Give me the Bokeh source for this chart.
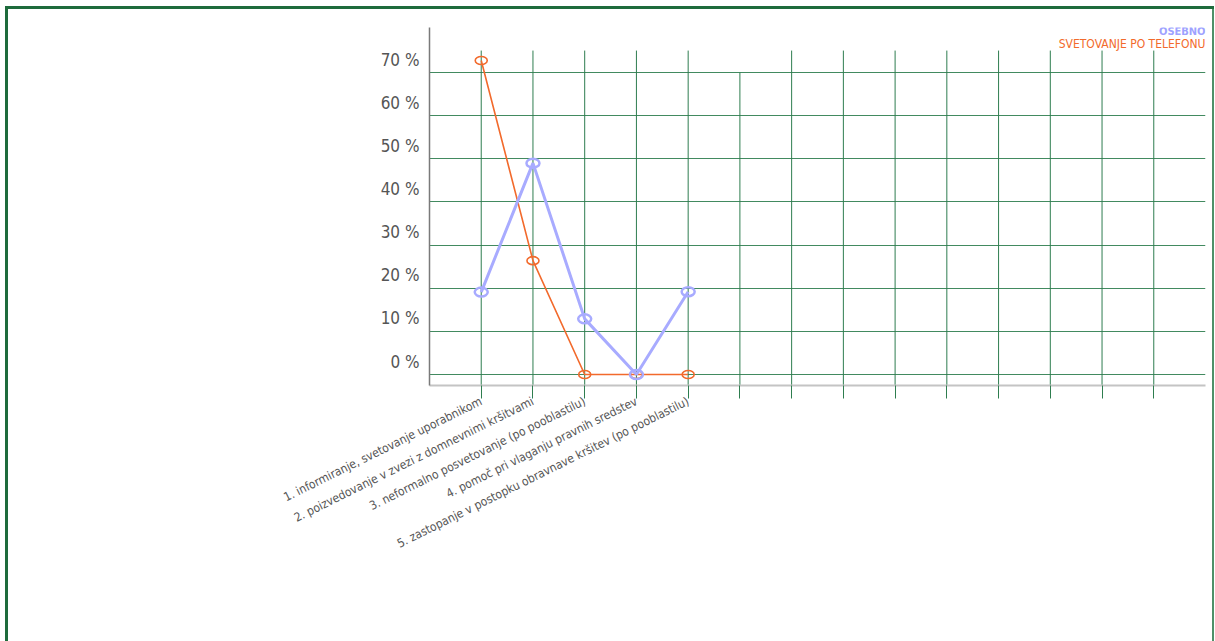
from bokeh.plotting import figure
from bokeh.layouts import column, row
from bokeh.models import Range1d, LinearAxis, FixedTicker, Label, Grid, ColumnDataSource, Spacer
from bokeh.embed import file_html
from bokeh.resources import INLINE

# ---- data ----
categories = [
    "1. informiranje, svetovanje uporabnikom",
    "2. poizvedovanje v zvezi z domnevnimi kršitvami",
    "3. neformalno posvetovanje (po pooblastilu)",
    "4. pomoč pri vlaganju pravnih sredstev",
    "5. zastopanje v postopku obravnave kršitev (po pooblastilu)",
]
series_names = ["OSEBNO", "SVETOVANJE PO TELEFONU"]
osebno = [19.1, 49.0, 12.9, 0.0, 19.2]
telefon = [72.8, 26.4, 0.0, 0.0, 0.0]
yticks = [0, 10, 20, 30, 40, 50, 60, 70]
ytick_labels = ["0 %", "10 %", "20 %", "30 %", "40 %", "50 %", "60 %", "70 %"]
n_slots = 14

# ---- styling ----
FONT = "DejaVu Sans Condensed"
GREEN = "#2e7d4f"
ORANGE = "#f26a2c"
BLUE = "#a8abff"
TXT = "#555555"
DARK = "#1e6b3c"

xs = list(range(1, len(categories) + 1))
slots = list(range(1, n_slots + 1))

y0, y1 = -2.55, 80.45
off = 3.0

p = figure(width=1204, height=632, output_backend="svg", toolbar_location=None,
           x_range=Range1d(0, n_slots + 1), y_range=Range1d(y0, y1),
           y_axis_location=None, min_border_left=421, min_border_right=7,
           min_border_top=18, min_border_bottom=256)
p.outline_line_color = None
p.grid.visible = False
p.background_fill_color = "white"
p.border_fill_color = "white"

p.extra_y_ranges = {"lab": Range1d(y0 - off, y1 - off)}

# horizontal grid
hg = Grid(dimension=1, ticker=FixedTicker(ticks=yticks), grid_line_color=GREEN,
          grid_line_width=1, grid_line_alpha=0.9)
p.add_layout(hg)

# vertical grid lines
tops = [70 if s == len(categories) + 1 else 75.1 for s in slots]
vsrc = ColumnDataSource(dict(x=slots, y0=[y0] * len(slots), y1=tops))
p.segment(x0="x", y0="y0", x1="x", y1="y1", source=vsrc, line_color=GREEN, line_width=1)

# x axis
xa = p.xaxis[0]
xa.ticker = FixedTicker(ticks=slots)
overrides = {s: "" for s in slots}
for i, c in zip(xs, categories):
    overrides[i] = c
xa.major_label_overrides = overrides
xa.major_tick_out = 13
xa.major_tick_in = 0
xa.major_tick_line_color = GREEN
xa.minor_tick_line_color = None
xa.axis_line_color = "#c4c4c4"
xa.axis_line_width = 2
xa.major_label_orientation = 0.46
xa.major_label_standoff = 2
xa.major_label_text_font = FONT
xa.major_label_text_font_size = "12px"
xa.major_label_text_color = TXT

# y axis (labels shifted above gridlines)
ya = LinearAxis(y_range_name="lab", ticker=FixedTicker(ticks=yticks),
                major_label_overrides=dict(zip(yticks, ytick_labels)))
ya.major_tick_line_color = None
ya.major_tick_out = 0
ya.major_tick_in = 0
ya.minor_tick_line_color = None
ya.minor_tick_out = 0
ya.axis_line_color = "#7a7a7a"
ya.axis_line_width = 1.5
ya.major_label_standoff = 10
ya.major_label_text_font = FONT
ya.major_label_text_font_size = "17px"
ya.major_label_text_color = TXT
p.add_layout(ya, "left")

# series
p.line(xs, telefon, line_color=ORANGE, line_width=1.6)
p.ellipse(xs, telefon, width=12, height=8, width_units="screen", height_units="screen",
          fill_color=None, line_color=ORANGE, line_width=1.6)
p.line(xs, osebno, line_color=BLUE, line_width=3)
p.ellipse(xs, osebno, width=13, height=9, width_units="screen", height_units="screen",
          fill_color=None, line_color=BLUE, line_width=2.5)

# legend texts
p.add_layout(Label(x=n_slots + 1, y=79.5, text=series_names[0], text_align="right",
                   text_baseline="middle", text_color="#9ea2ff", text_font=FONT,
                   text_font_style="bold", text_font_size="11px"))
p.add_layout(Label(x=n_slots + 1, y=76.7, text=series_names[1], text_align="right",
                   text_baseline="middle", text_color=ORANGE, text_font=FONT,
                   text_font_size="12px"))

# page frame built from coloured spacers
top_bar = Spacer(width=1209, height=3, background=DARK)
left_bar = Spacer(width=3, height=632, background=DARK)
right_bar = Spacer(width=2, height=632, background="#4f9068")
layout = column(top_bar, row(left_bar, p, right_bar, spacing=0), spacing=0,
                margin=(6, 0, 0, 5))

open("out.html", "w").write(file_html(layout, INLINE))
